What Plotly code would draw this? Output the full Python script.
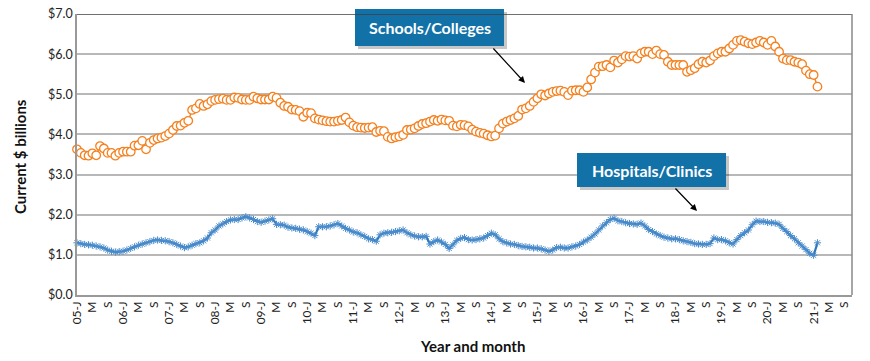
import plotly.graph_objects as go

# ---- data (monthly, Jan 2005 - Feb 2021) ----
schools_2005 = [3.63, 3.54, 3.48, 3.47, 3.53, 3.48, 3.71, 3.65, 3.54, 3.54, 3.47, 3.54]
schools_2006 = [3.57, 3.57, 3.57, 3.72, 3.73, 3.84, 3.63, 3.79, 3.86, 3.90, 3.92, 3.96]
schools_2007 = [4.02, 4.11, 4.21, 4.22, 4.29, 4.34, 4.61, 4.65, 4.76, 4.71, 4.75, 4.83]
schools_2008 = [4.86, 4.88, 4.89, 4.86, 4.86, 4.92, 4.91, 4.87, 4.86, 4.86, 4.94, 4.90]
schools_2009 = [4.87, 4.87, 4.87, 4.94, 4.91, 4.79, 4.71, 4.69, 4.62, 4.61, 4.58, 4.44]
schools_2010 = [4.54, 4.53, 4.40, 4.37, 4.35, 4.33, 4.32, 4.32, 4.34, 4.36, 4.42, 4.30]
schools_2011 = [4.22, 4.18, 4.17, 4.16, 4.17, 4.18, 4.06, 4.09, 4.08, 3.94, 3.90, 3.93]
schools_2012 = [3.95, 3.99, 4.11, 4.12, 4.15, 4.21, 4.26, 4.28, 4.32, 4.36, 4.34, 4.37]
schools_2013 = [4.35, 4.34, 4.22, 4.20, 4.24, 4.23, 4.20, 4.12, 4.07, 4.04, 4.02, 3.98]
schools_2014 = [3.95, 3.97, 4.15, 4.27, 4.32, 4.36, 4.40, 4.46, 4.62, 4.65, 4.71, 4.81]
schools_2015 = [4.90, 5.00, 4.97, 5.02, 5.06, 5.08, 5.09, 5.06, 4.98, 5.09, 5.10, 5.10]
schools_2016 = [5.06, 5.17, 5.37, 5.54, 5.69, 5.70, 5.73, 5.67, 5.84, 5.79, 5.87, 5.95]
schools_2017 = [5.94, 5.95, 5.89, 6.02, 6.06, 6.06, 6.00, 6.09, 6.00, 5.98, 5.81, 5.73]
schools_2018 = [5.73, 5.73, 5.73, 5.56, 5.60, 5.65, 5.75, 5.81, 5.79, 5.84, 5.95, 6.02]
schools_2019 = [6.06, 6.06, 6.14, 6.23, 6.33, 6.35, 6.31, 6.27, 6.25, 6.29, 6.33, 6.29]
schools_2020 = [6.23, 6.33, 6.19, 6.06, 5.89, 5.85, 5.85, 5.81, 5.79, 5.75, 5.59, 5.50]
schools_2021 = [5.48, 5.19]

hosp_2005 = [1.30, 1.28, 1.26, 1.25, 1.24, 1.22, 1.20, 1.17, 1.12, 1.09, 1.07, 1.08]
hosp_2006 = [1.09, 1.12, 1.16, 1.20, 1.24, 1.27, 1.30, 1.33, 1.36, 1.37, 1.36, 1.35]
hosp_2007 = [1.33, 1.30, 1.26, 1.22, 1.18, 1.20, 1.24, 1.28, 1.30, 1.35, 1.42, 1.55]
hosp_2008 = [1.62, 1.72, 1.77, 1.83, 1.87, 1.88, 1.88, 1.92, 1.95, 1.92, 1.88, 1.83]
hosp_2009 = [1.81, 1.84, 1.87, 1.90, 1.76, 1.75, 1.74, 1.69, 1.67, 1.66, 1.64, 1.62]
hosp_2010 = [1.58, 1.54, 1.48, 1.70, 1.70, 1.70, 1.72, 1.75, 1.78, 1.72, 1.66, 1.62]
hosp_2011 = [1.57, 1.55, 1.50, 1.46, 1.40, 1.38, 1.34, 1.50, 1.54, 1.55, 1.56, 1.58]
hosp_2012 = [1.60, 1.62, 1.55, 1.50, 1.47, 1.45, 1.45, 1.46, 1.27, 1.33, 1.37, 1.32]
hosp_2013 = [1.26, 1.16, 1.25, 1.36, 1.41, 1.43, 1.38, 1.37, 1.38, 1.40, 1.42, 1.48]
hosp_2014 = [1.54, 1.50, 1.40, 1.33, 1.30, 1.27, 1.26, 1.23, 1.21, 1.20, 1.19, 1.17]
hosp_2015 = [1.17, 1.15, 1.12, 1.09, 1.12, 1.18, 1.19, 1.17, 1.17, 1.20, 1.22, 1.26]
hosp_2016 = [1.32, 1.37, 1.44, 1.52, 1.62, 1.72, 1.80, 1.88, 1.91, 1.85, 1.83, 1.80]
hosp_2017 = [1.78, 1.77, 1.76, 1.79, 1.72, 1.63, 1.58, 1.52, 1.48, 1.44, 1.42, 1.40]
hosp_2018 = [1.40, 1.38, 1.35, 1.33, 1.31, 1.28, 1.27, 1.26, 1.26, 1.28, 1.42, 1.38]
hosp_2019 = [1.38, 1.35, 1.30, 1.27, 1.38, 1.48, 1.55, 1.62, 1.75, 1.84, 1.83, 1.83]
hosp_2020 = [1.81, 1.80, 1.79, 1.76, 1.66, 1.58, 1.48, 1.40, 1.30, 1.22, 1.13, 1.04]
hosp_2021 = [0.99, 1.30]

schools = (schools_2005 + schools_2006 + schools_2007 + schools_2008 + schools_2009 +
           schools_2010 + schools_2011 + schools_2012 + schools_2013 + schools_2014 +
           schools_2015 + schools_2016 + schools_2017 + schools_2018 + schools_2019 +
           schools_2020 + schools_2021)
hospitals = (hosp_2005 + hosp_2006 + hosp_2007 + hosp_2008 + hosp_2009 +
             hosp_2010 + hosp_2011 + hosp_2012 + hosp_2013 + hosp_2014 +
             hosp_2015 + hosp_2016 + hosp_2017 + hosp_2018 + hosp_2019 +
             hosp_2020 + hosp_2021)

first_year = 5
last_axis_year = 21
month_letters = {0: "J", 4: "M", 8: "S"}

months = list(range(len(schools)))

tick_vals = []
tick_text = []
for yr in range(first_year, last_axis_year + 1):
    for mo in (0, 4, 8):
        tick_vals.append((yr - first_year) * 12 + mo)
        tick_text.append(f"{yr:02d}-J" if mo == 0 else month_letters[mo])

FONT = "Lato"
ORANGE = "#f5811f"
BLUE = "#2f78bd"
BOX = "#1272a8"

fig = go.Figure()
fig.add_trace(go.Scatter(
    x=months, y=schools, mode="lines+markers", name="Schools/Colleges",
    line=dict(color=ORANGE, width=1.5),
    marker=dict(symbol="circle", size=8.5, color="white",
                line=dict(color=ORANGE, width=1.3)),
    cliponaxis=False,
))
fig.add_trace(go.Scatter(
    x=months, y=hospitals, mode="lines+markers", name="Hospitals/Clinics",
    line=dict(color=BLUE, width=2.2),
    marker=dict(symbol="asterisk-open", size=6, color="#4a8ccc",
                line=dict(color="#4a8ccc", width=1)),
    cliponaxis=False,
))

W, H = 870, 361
PLOT_L, PLOT_R, PLOT_T, PLOT_B = 77, 852, 14, 295   # page pixels
L, T, R, B = PLOT_L, PLOT_T, W - PLOT_R, H - PLOT_B
pw, ph = PLOT_R - PLOT_L, PLOT_B - PLOT_T


def px(x):
    return (x - PLOT_L) / pw


def py(y):
    return (PLOT_B - y) / ph


shapes = []
annotations = []


def box(x0, y0, x1, y1, text):
    shapes.append(dict(type="rect", xref="paper", yref="paper",
                       x0=px(x0 + 3), x1=px(x1 + 3), y0=py(y1 + 3), y1=py(y0 + 3),
                       fillcolor="rgba(0,0,0,0.22)", line=dict(width=0), layer="above"))
    shapes.append(dict(type="rect", xref="paper", yref="paper",
                       x0=px(x0), x1=px(x1), y0=py(y1), y1=py(y0),
                       fillcolor=BOX, line=dict(width=0), layer="above"))
    annotations.append(dict(xref="paper", yref="paper", x=px((x0 + x1) / 2),
                            y=py((y0 + y1) / 2), text=f"<b>{text}</b>",
                            showarrow=False, xanchor="center", yanchor="middle",
                            font=dict(family=FONT, size=16, color="white")))


def arrow(xs, ys, xe, ye):
    annotations.append(dict(xref="paper", yref="paper", x=px(xe), y=py(ye),
                            ax=xs - xe, ay=ys - ye, text="", showarrow=True,
                            arrowhead=2, arrowsize=1.1, arrowwidth=1.2,
                            arrowcolor="black"))


box(355, 9, 504, 46, "Schools/Colleges")
arrow(492, 47, 525, 83)
box(577, 153, 726, 187, "Hospitals/Clinics")
arrow(674, 187, 697, 211)

# axis titles
annotations.append(dict(xref="paper", yref="paper", x=px(20), y=py(157),
                        text="<b>Current $ billions</b>", textangle=-90, showarrow=False,
                        xanchor="center", yanchor="middle",
                        font=dict(family=FONT, size=15, color="#111111")))
annotations.append(dict(xref="paper", yref="paper", x=px(472), y=py(346),
                        text="<b>Year and month</b>", showarrow=False,
                        xanchor="center", yanchor="middle",
                        font=dict(family=FONT, size=15, color="#111111")))

# dark top border line
shapes.append(dict(type="line", xref="paper", yref="y", x0=0, x1=1, y0=7, y1=7,
                   line=dict(color="#404040", width=1.5)))
# right border
shapes.append(dict(type="line", xref="paper", yref="paper", x0=1, x1=1, y0=0, y1=1,
                   line=dict(color="#888888", width=1.5)))

fig.update_layout(
    width=W, height=H,
    margin=dict(l=L, r=R, t=T, b=B, autoexpand=False),
    paper_bgcolor="white", plot_bgcolor="white",
    showlegend=False,
    font=dict(family=FONT, color="#222222"),
    shapes=shapes, annotations=annotations,
    xaxis=dict(
        range=[0, 202], tickmode="array", tickvals=tick_vals, ticktext=tick_text,
        tickangle=-90, showgrid=False, zeroline=False, automargin=False,
        showline=True, linecolor="#999999", linewidth=1.5,
        ticks="", tickfont=dict(family=FONT, size=12, color="#222222"),
    ),
    yaxis=dict(
        range=[0, 7], dtick=1, tickprefix="$", tickformat=".1f", automargin=False,
        showgrid=True, gridcolor="#b8b8b8", gridwidth=1.5, zeroline=False,
        showline=True, linecolor="#999999", linewidth=1.5,
        ticks="", tickfont=dict(family=FONT, size=12.5, color="#222222"),
    ),
)

fig.write_html(
    "out.html",
    config={"displayModeBar": False},
    post_script="document.body.style.margin='0';document.body.style.overflow='hidden';",
)
